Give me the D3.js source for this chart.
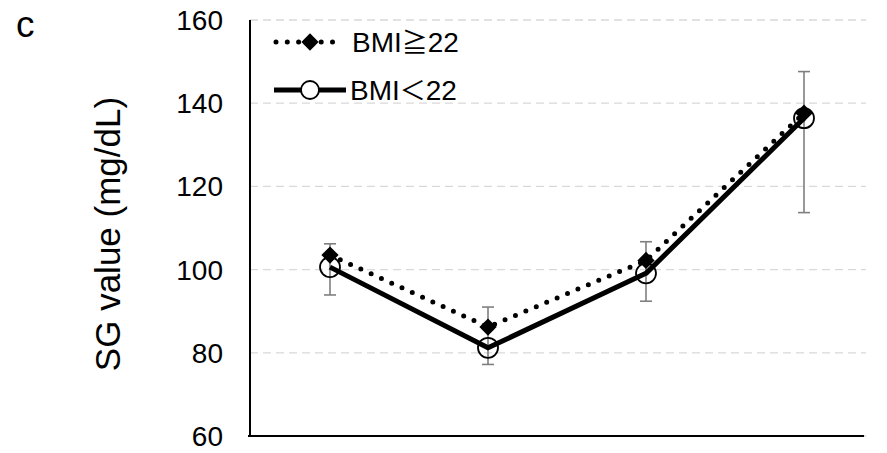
<!DOCTYPE html>
<html>
<head>
<meta charset="utf-8">
<script src="https://cdn.jsdelivr.net/npm/d3@7"></script>
<style>
body { margin: 0; background: #fff; }
text { font-family: "Liberation Sans", Arial, sans-serif; }
.cjk { font-family: "Noto Sans CJK JP", sans-serif; }
</style>
</head>
<body>
<svg id="chart" width="887" height="453"></svg>
<script>
// data
var categories = ['t1', 't2', 't3', 't4'];
var bmiHigh = [103.5, 86.2, 102.2, 137.6];   // BMI≧22, diamonds, dotted
var bmiLow = [100.6, 81.2, 99.1, 136.4];     // BMI<22, open circles, solid
var errLow = [93.9, 77.2, 92.4, 113.7];
var errHigh = [106.2, 91.0, 106.7, 147.6];
var yTicks = [60, 80, 100, 120, 140, 160];
var seriesNames = [['BMI', '\u2267', '22'], ['BMI', '\uFF1C', '22']];

var svg = d3.select('#chart');
var plotL = 250, plotR = 864, plotT = 20, plotB = 436;

var y = d3.scaleLinear().domain([60, 160]).range([plotB, plotT]);
var x = d3.scalePoint().domain(categories).range([plotL + 80, plotL + 554]);

// gridlines
svg.append('g').selectAll('line')
	.data(yTicks)
	.enter().append('line')
	.attr('x1', plotL).attr('x2', plotR + 2)
	.attr('y1', function (d) { return y(d); })
	.attr('y2', function (d) { return y(d); })
	.attr('stroke', '#d9d9d9')
	.attr('stroke-width', 1.3)
	.attr('stroke-dasharray', '8,5');

// y axis labels
svg.append('g').selectAll('text')
	.data(yTicks)
	.enter().append('text')
	.attr('x', 223)
	.attr('y', function (d) { return y(d); })
	.attr('dy', '0.36em')
	.attr('text-anchor', 'end')
	.attr('font-size', 28)
	.attr('fill', '#000')
	.text(function (d) { return d; });

// axes lines
svg.append('line').attr('x1', plotL).attr('x2', plotL).attr('y1', plotT).attr('y2', plotB)
	.attr('stroke', '#000').attr('stroke-width', 2);
svg.append('line').attr('x1', plotL - 2).attr('x2', plotR).attr('y1', plotB).attr('y2', plotB)
	.attr('stroke', '#000').attr('stroke-width', 2.2);

// y title + panel letter
svg.append('text')
	.attr('transform', 'translate(120,234) rotate(-90)')
	.attr('text-anchor', 'middle')
	.attr('font-size', 35)
	.text('SG value (mg/dL)');
svg.append('text').attr('x', 16).attr('y', 37).attr('font-size', 37).text('c');

// error bars
var eb = svg.append('g').attr('stroke', '#7f7f7f').attr('stroke-width', 1.6);
categories.forEach(function (c, i) {
	var cx = x(c);
	eb.append('line').attr('x1', cx).attr('x2', cx).attr('y1', y(errLow[i])).attr('y2', y(errHigh[i]));
	eb.append('line').attr('x1', cx - 6).attr('x2', cx + 6).attr('y1', y(errLow[i])).attr('y2', y(errLow[i]));
	eb.append('line').attr('x1', cx - 6).attr('x2', cx + 6).attr('y1', y(errHigh[i])).attr('y2', y(errHigh[i]));
});

var line = d3.line()
	.x(function (d, i) { return x(categories[i]); })
	.y(function (d) { return y(d); });

// solid series
svg.append('path').datum(bmiLow)
	.attr('d', line)
	.attr('fill', 'none').attr('stroke', '#000').attr('stroke-width', 5)
	.attr('stroke-linejoin', 'round');
svg.append('g').selectAll('circle')
	.data(bmiLow)
	.enter().append('circle')
	.attr('cx', function (d, i) { return x(categories[i]); })
	.attr('cy', function (d) { return y(d); })
	.attr('r', 10)
	.attr('fill', 'none')
	.attr('stroke', '#000').attr('stroke-width', 1.8);

// dotted series
svg.append('path').datum(bmiHigh)
	.attr('d', line)
	.attr('fill', 'none').attr('stroke', '#000').attr('stroke-width', 5)
	.attr('stroke-linecap', 'round')
	.attr('stroke-dasharray', '0,11.3');
var diamond = d3.symbol().type(d3.symbolDiamond2).size(190);
svg.append('g').selectAll('path')
	.data(bmiHigh)
	.enter().append('path')
	.attr('d', diamond)
	.attr('transform', function (d, i) { return 'translate(' + x(categories[i]) + ',' + y(d) + ')'; })
	.attr('fill', '#000');

// legend
var lg = svg.append('g');
var legendText = function (name, tx, ty) {
	var t = lg.append('text').attr('x', tx).attr('y', ty).attr('dy', '0.36em').attr('font-size', 28);
	t.append('tspan').text(name[0]);
	t.append('tspan').attr('class', 'cjk').attr('font-size', 26).text(name[1]);
	t.append('tspan').text(name[2]);
};
lg.append('line').attr('x1', 276).attr('x2', 342).attr('y1', 42).attr('y2', 42)
	.attr('stroke', '#000').attr('stroke-width', 5)
	.attr('stroke-linecap', 'round').attr('stroke-dasharray', '0,11.3');
lg.append('path').attr('d', diamond).attr('transform', 'translate(310,42)').attr('fill', '#000');
legendText(seriesNames[0], 352, 42);

lg.append('line').attr('x1', 274).attr('x2', 346).attr('y1', 90).attr('y2', 90)
	.attr('stroke', '#000').attr('stroke-width', 5);
lg.append('circle').attr('cx', 310).attr('cy', 90).attr('r', 9)
	.attr('fill', '#fff').attr('stroke', '#000').attr('stroke-width', 1.8);
legendText(seriesNames[1], 350, 90);
</script>
</body>
</html>
